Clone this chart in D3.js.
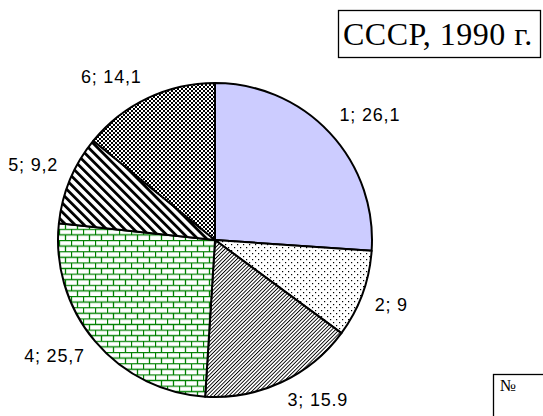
<!DOCTYPE html>
<html lang="ru">
<head>
<meta charset="utf-8">
<title>СССР, 1990 г.</title>
<script type="text/javascript" src="https://cdnjs.cloudflare.com/ajax/libs/d3/7.8.5/d3.min.js" charset="utf-8"></script>
<style>
	body { margin: 0; background: #fff; }
	svg { display: block; }
</style>
</head>
<body>
<script type="text/javascript">

// данные
var categories = ["1", "2", "3", "4", "5", "6"];
var values = [26.1, 9, 15.9, 25.7, 9.2, 14.1];
var valueLabels = ["26,1", "9", "15.9", "25,7", "9,2", "14,1"];
var fills = ["solid", "dots", "fdiag", "brick", "wdiag", "check"];

var width = 543,
	height = 416,
	cx = 215,
	cy = 240,
	radius = 157,
	labelRadius = 169;

var svg = d3.select("body")
	.append("svg")
	.attr("width", width)
	.attr("height", height);

var defs = svg.append("defs");

// точки
var pDots = defs.append("pattern")
	.attr("id", "dots")
	.attr("patternUnits", "userSpaceOnUse")
	.attr("width", 6)
	.attr("height", 6);
pDots.append("rect").attr("width", 6).attr("height", 6).attr("fill", "#fff");
pDots.append("rect").attr("x", 1).attr("y", 1).attr("width", 1.2).attr("height", 1.2).attr("fill", "#000");
pDots.append("rect").attr("x", 4).attr("y", 4).attr("width", 1.2).attr("height", 1.2).attr("fill", "#000");

// тонкая штриховка "/"
var pFdiag = defs.append("pattern")
	.attr("id", "fdiag")
	.attr("patternUnits", "userSpaceOnUse")
	.attr("width", 2.6)
	.attr("height", 10)
	.attr("patternTransform", "rotate(45)");
pFdiag.append("rect").attr("width", 2.6).attr("height", 10).attr("fill", "#fff");
pFdiag.append("rect").attr("width", 0.9).attr("height", 10).attr("fill", "#000");

// кирпичи
var bw = 12, bh = 5.6;
var pBrick = defs.append("pattern")
	.attr("id", "brick")
	.attr("patternUnits", "userSpaceOnUse")
	.attr("width", bw)
	.attr("height", bh * 2);
pBrick.append("rect").attr("width", bw).attr("height", bh * 2).attr("fill", "#fff");
pBrick.append("path")
	.attr("d", "M0," + 0.5 + "H" + bw +
		"M0," + (bh + 0.5) + "H" + bw +
		"M0.5,0V" + bh +
		"M" + (bw / 2 + 0.5) + "," + bh + "V" + (bh * 2))
	.attr("stroke", "#008000")
	.attr("stroke-width", 1.3)
	.attr("fill", "none");

// широкая штриховка "\"
var pWdiag = defs.append("pattern")
	.attr("id", "wdiag")
	.attr("patternUnits", "userSpaceOnUse")
	.attr("width", 6.4)
	.attr("height", 10)
	.attr("patternTransform", "rotate(-45)");
pWdiag.append("rect").attr("width", 6.4).attr("height", 10).attr("fill", "#fff");
pWdiag.append("rect").attr("width", 2.8).attr("height", 10).attr("fill", "#000");

// мелкая клетка
var pCheck = defs.append("pattern")
	.attr("id", "check")
	.attr("patternUnits", "userSpaceOnUse")
	.attr("width", 4)
	.attr("height", 4);
pCheck.append("rect").attr("width", 4).attr("height", 4).attr("fill", "#000");
pCheck.append("rect").attr("x", 0).attr("y", 0).attr("width", 2).attr("height", 2).attr("fill", "#fff");
pCheck.append("rect").attr("x", 2).attr("y", 2).attr("width", 2).attr("height", 2).attr("fill", "#fff");

var pie = d3.pie()
	.sort(null)
	.value(function(d){ return d; });

var arcs = pie(values);

var arc = d3.arc()
	.innerRadius(0)
	.outerRadius(radius);

var g = svg.append("g")
	.attr("transform", "translate(" + cx + "," + cy + ")");

g.selectAll("path.slice")
	.data(arcs)
	.enter()
	.append("path")
	.attr("class", "slice")
	.attr("d", arc)
	.attr("fill", function(d, i){
		if(fills[i] === "solid"){
			return "#ccccff";
		}
		return "url(#" + fills[i] + ")";
	})
	.attr("stroke", "#000")
	.attr("stroke-width", 2)
	.attr("stroke-linejoin", "round");

// подписи: угол рамки подписи лежит на окружности labelRadius
g.selectAll("text.lbl")
	.data(arcs)
	.enter()
	.append("text")
	.attr("class", "lbl")
	.each(function(d, i){
		var a = (d.startAngle + d.endAngle) / 2;
		var ax = Math.sin(a) * labelRadius;
		var ay = -Math.cos(a) * labelRadius;
		var right = Math.sin(a) >= 0;
		var upper = Math.cos(a) >= 0;
		d3.select(this)
			.attr("x", right ? ax + 1 : ax - 1)
			.attr("y", upper ? ay - 4 : ay + 13)
			.attr("text-anchor", right ? "start" : "end");
	})
	.style("font-family", "'Liberation Sans', Arial, sans-serif")
	.style("font-size", "18px")
	.style("letter-spacing", "0.8px")
	.attr("fill", "#000")
	.text(function(d, i){
		return categories[i] + "; " + valueLabels[i];
	});

// заголовок
svg.append("rect")
	.attr("x", 338.5)
	.attr("y", 10.5)
	.attr("width", 202)
	.attr("height", 47)
	.attr("fill", "#fff")
	.attr("stroke", "#000")
	.attr("stroke-width", 1.3);

svg.append("text")
	.attr("x", 343)
	.attr("y", 45)
	.style("font-family", "'Liberation Serif', 'Times New Roman', serif")
	.style("font-size", "32px")
	.style("letter-spacing", "0.5px")
	.attr("fill", "#000")
	.text("СССР, 1990 г.");

// рамка с номером
svg.append("rect")
	.attr("x", 493.5)
	.attr("y", 374.5)
	.attr("width", 100)
	.attr("height", 100)
	.attr("fill", "#fff")
	.attr("stroke", "#000")
	.attr("stroke-width", 1.3);

svg.append("text")
	.attr("x", 500)
	.attr("y", 391)
	.style("font-family", "'Liberation Serif', 'Times New Roman', serif")
	.style("font-size", "17px")
	.attr("fill", "#000")
	.text("№");

</script>
</body>
</html>
